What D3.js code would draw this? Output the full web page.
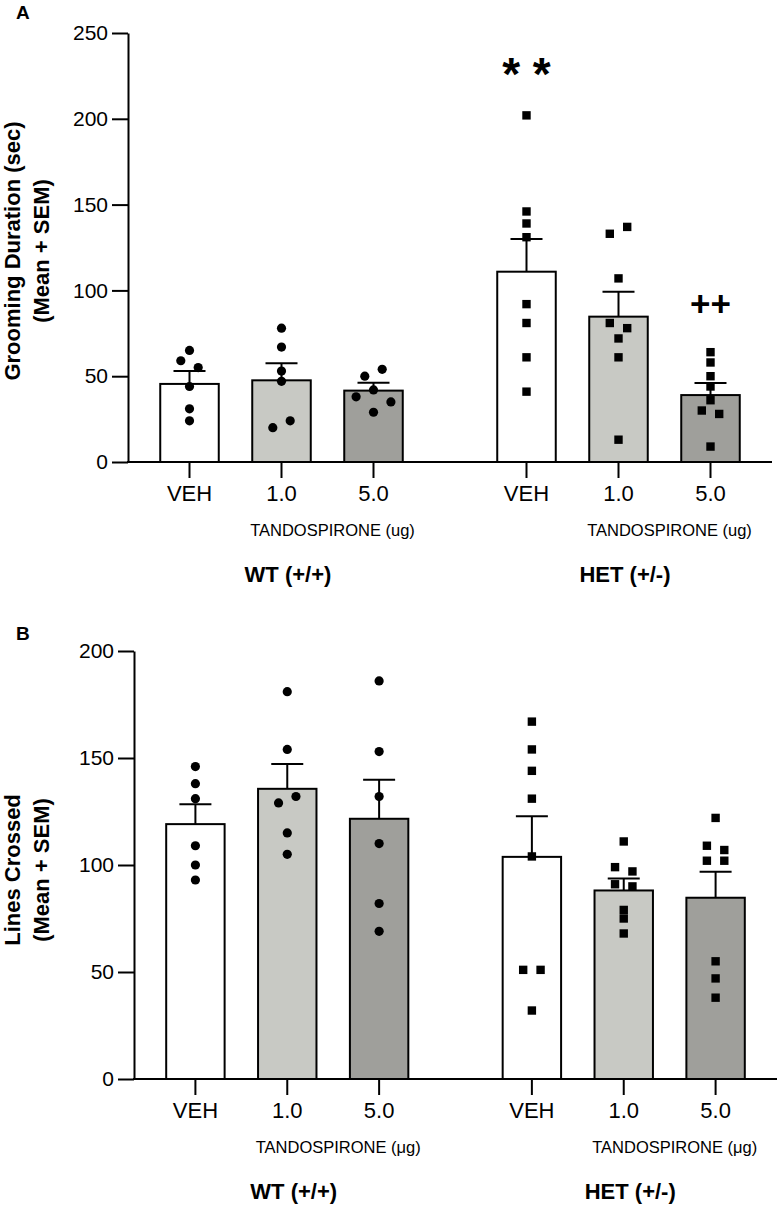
<!DOCTYPE html>
<html><head><meta charset="utf-8">
<script src="https://cdn.jsdelivr.net/npm/d3@7"></script>
<style>
body{margin:0;background:#fff;}
text{font-family:"Liberation Sans",Arial,Helvetica,sans-serif;fill:#000;}
</style>
</head><body>
<svg id="chart" width="780" height="1207"></svg>
<script>
// ---------------- DATA ----------------
const genotypes = ["WT (+/+)", "HET (+/-)"];
const doses = ["VEH", "1.0", "5.0"];

// Panel A: grooming duration (sec)
const groomTicks = [0, 50, 100, 150, 200, 250];
const groomMeanWT = [45.5, 47.6, 41.6];
const groomMeanHET = [110.9, 84.7, 39.0];
const groomSemWT = [7.5, 9.9, 4.6];
const groomSemHET = [19.1, 14.5, 7.0];
const groomPtsWT = [
  [65, 59, 55, 44, 31, 24],
  [78, 67, 53, 47, 20, 24],
  [50, 54, 38, 42, 35, 29]
];
const groomPtsHET = [
  [202, 146, 139, 131, 92, 81, 61, 41],
  [133, 137, 107, 81, 78, 72, 61, 13],
  [64, 58, 50, 44, 36, 30, 28, 9]
];
const groomSig = [{g: "HET (+/-)", d: "VEH", label: "* *"}, {g: "HET (+/-)", d: "5.0", label: "++"}];

// Panel B: lines crossed
const linesTicks = [0, 50, 100, 150, 200];
const linesMeanWT = [119.1, 135.6, 121.6];
const linesMeanHET = [103.8, 88.1, 84.7];
const linesSemWT = [9.3, 11.6, 18.2];
const linesSemHET = [19.0, 5.6, 12.1];
const linesPtsWT = [
  [146, 138, 131, 109, 100, 93],
  [181, 154, 129, 132, 115, 105],
  [186, 153, 132, 110, 82, 69]
];
const linesPtsHET = [
  [167, 154, 144, 131, 104, 51, 51, 32],
  [111, 99, 97, 91, 90, 79, 75, 68],
  [122, 109, 107, 102, 102, 55, 47, 38]
];
const linesSig = [];

// ---------------- STYLE ----------------
const doseFill = {"VEH": "#ffffff", "1.0": "#c8c9c4", "5.0": "#9f9f9b"};
const sigStyle = {"* *": {size: 46, gap: 25}, "++": {size: 35, gap: 36}};

const svg = d3.select("#chart");

function jitter(vals, y, thr, dx) {
  const idx = vals.map((v, i) => i).sort((a, b) => vals[b] - vals[a] || a - b);
  const offs = new Array(vals.length).fill(0);
  let cluster = [idx[0]];
  const flush = () => {
    cluster.sort((a, b) => a - b);
    const n = cluster.length;
    cluster.forEach((k, j) => { offs[k] = (j - (n - 1) / 2) * dx; });
  };
  for (let k = 1; k < idx.length; k++) {
    const prev = idx[k - 1], cur = idx[k];
    if (y(vals[cur]) - y(vals[prev]) < thr) cluster.push(cur);
    else { flush(); cluster = [cur]; }
  }
  flush();
  return offs;
}

function panel(o) {
  const g = svg.append("g");
  const y = d3.scaleLinear().domain([0, o.max]).range([o.bottom, o.top]);
  const outer = d3.scaleBand().domain(genotypes).range([o.left, o.right])
    .paddingInner(0.181).paddingOuter(0.046).align(0.5);
  const inner = d3.scaleBand().domain(doses).range([0, outer.bandwidth()])
    .paddingInner(0.364).paddingOuter(0.182);
  const cx = (gen, d) => outer(gen) + inner(d) + inner.bandwidth() / 2;

  // panel letter
  g.append("text").attr("x", o.letterX).attr("y", o.letterY)
    .attr("font-size", 19).attr("font-weight", "bold").text(o.letter);

  // y axis
  const ya = g.append("g").attr("transform", `translate(${o.left},0)`)
    .call(d3.axisLeft(y).tickValues(o.ticks).tickSize(16).tickSizeOuter(0).tickPadding(4).tickFormat(d3.format("d")));
  ya.selectAll("path,line").attr("stroke", "#000").attr("stroke-width", 2);
  ya.selectAll("text").attr("font-size", 21).attr("font-family", "Liberation Sans, Arial, sans-serif").attr("fill", "#000");

  // y label
  o.ylab.forEach((t, i) => {
    g.append("text").attr("transform", `translate(${o.ylabX[i]},${o.ylabY}) rotate(-90)`)
      .attr("text-anchor", "middle").attr("font-size", 22).attr("font-weight", "bold").text(t);
  });

  const groups = [
    {gen: genotypes[0], means: o.meanWT, sems: o.semWT, pts: o.ptsWT, shape: "circle"},
    {gen: genotypes[1], means: o.meanHET, sems: o.semHET, pts: o.ptsHET, shape: "square"}
  ];

  groups.forEach(G => {
    doses.forEach((d, i) => {
      const x0 = outer(G.gen) + inner(d);
      const c = cx(G.gen, d);
      // bar
      g.append("rect").attr("x", x0).attr("y", y(G.means[i]))
        .attr("width", inner.bandwidth()).attr("height", y(0) - y(G.means[i]))
        .attr("fill", doseFill[d]).attr("stroke", "#000").attr("stroke-width", 2);
      // error bar
      const top = y(G.means[i] + G.sems[i]);
      g.append("line").attr("x1", c).attr("x2", c).attr("y1", y(G.means[i])).attr("y2", top)
        .attr("stroke", "#000").attr("stroke-width", 2);
      g.append("line").attr("x1", c - 16).attr("x2", c + 16).attr("y1", top).attr("y2", top)
        .attr("stroke", "#000").attr("stroke-width", 2);
      // points
      const vals = G.pts[i];
      const offs = jitter(vals, y, 7.2, 17.4);
      vals.forEach((v, k) => {
        if (G.shape === "circle") {
          g.append("circle").attr("cx", c + offs[k]).attr("cy", y(v)).attr("r", 4.6).attr("fill", "#000");
        } else {
          g.append("rect").attr("x", c + offs[k] - 4.2).attr("y", y(v) - 4.2)
            .attr("width", 8.4).attr("height", 8.4).attr("fill", "#000");
        }
      });
    });

    // x axis ticks per group
    const xa = g.append("g").attr("transform", `translate(${outer(G.gen)},${o.bottom})`)
      .call(d3.axisBottom(inner).tickSize(16).tickSizeOuter(0).tickPadding(7));
    xa.select(".domain").remove();
    xa.selectAll("line").attr("stroke", "#000").attr("stroke-width", 2);
    xa.selectAll("text").attr("font-size", 22).attr("font-family", "Liberation Sans, Arial, sans-serif").attr("fill", "#000");

    const gc = outer(G.gen) + outer.bandwidth() / 2;
    g.append("text").attr("x", gc + 51).attr("y", o.bottom + 73.5)
      .attr("text-anchor", "middle").attr("font-size", 16.5).text(o.drug);
    g.append("text").attr("x", gc + 6.5).attr("y", o.bottom + 119.7)
      .attr("text-anchor", "middle").attr("font-size", 22).attr("font-weight", "bold").text(G.gen);
  });

  // x axis line
  g.append("line").attr("x1", o.left - 1).attr("x2", o.right).attr("y1", y(0)).attr("y2", y(0))
    .attr("stroke", "#000").attr("stroke-width", 2);

  // significance marks
  o.sig.forEach(s => {
    const G = s.g === genotypes[0] ? {pts: o.ptsWT} : {pts: o.ptsHET};
    const vals = G.pts[doses.indexOf(s.d)];
    const st = sigStyle[s.label];
    g.append("text").attr("x", cx(s.g, s.d)).attr("y", y(d3.max(vals)) - st.gap)
      .attr("text-anchor", "middle").attr("font-size", st.size).attr("font-weight", "bold")
      .style("white-space", "pre").text(s.label);
  });
}

panel({
  left: 128, right: 772, top: 33, bottom: 462, max: 250, ticks: groomTicks,
  meanWT: groomMeanWT, meanHET: groomMeanHET, semWT: groomSemWT, semHET: groomSemHET,
  ptsWT: groomPtsWT, ptsHET: groomPtsHET, sig: groomSig,
  letter: "A", letterX: 16, letterY: 18.5,
  ylab: ["Grooming Duration (sec)", "(Mean + SEM)"], ylabX: [20, 49], ylabY: 251,
  drug: "TANDOSPIRONE (ug)"
});

panel({
  left: 134, right: 777, top: 651, bottom: 1079, max: 200, ticks: linesTicks,
  meanWT: linesMeanWT, meanHET: linesMeanHET, semWT: linesSemWT, semHET: linesSemHET,
  ptsWT: linesPtsWT, ptsHET: linesPtsHET, sig: linesSig,
  letter: "B", letterX: 16, letterY: 640,
  ylab: ["Lines Crossed", "(Mean + SEM)"], ylabX: [20, 49], ylabY: 870,
  drug: "TANDOSPIRONE (\u03bcg)"
});
</script>
</body></html>
